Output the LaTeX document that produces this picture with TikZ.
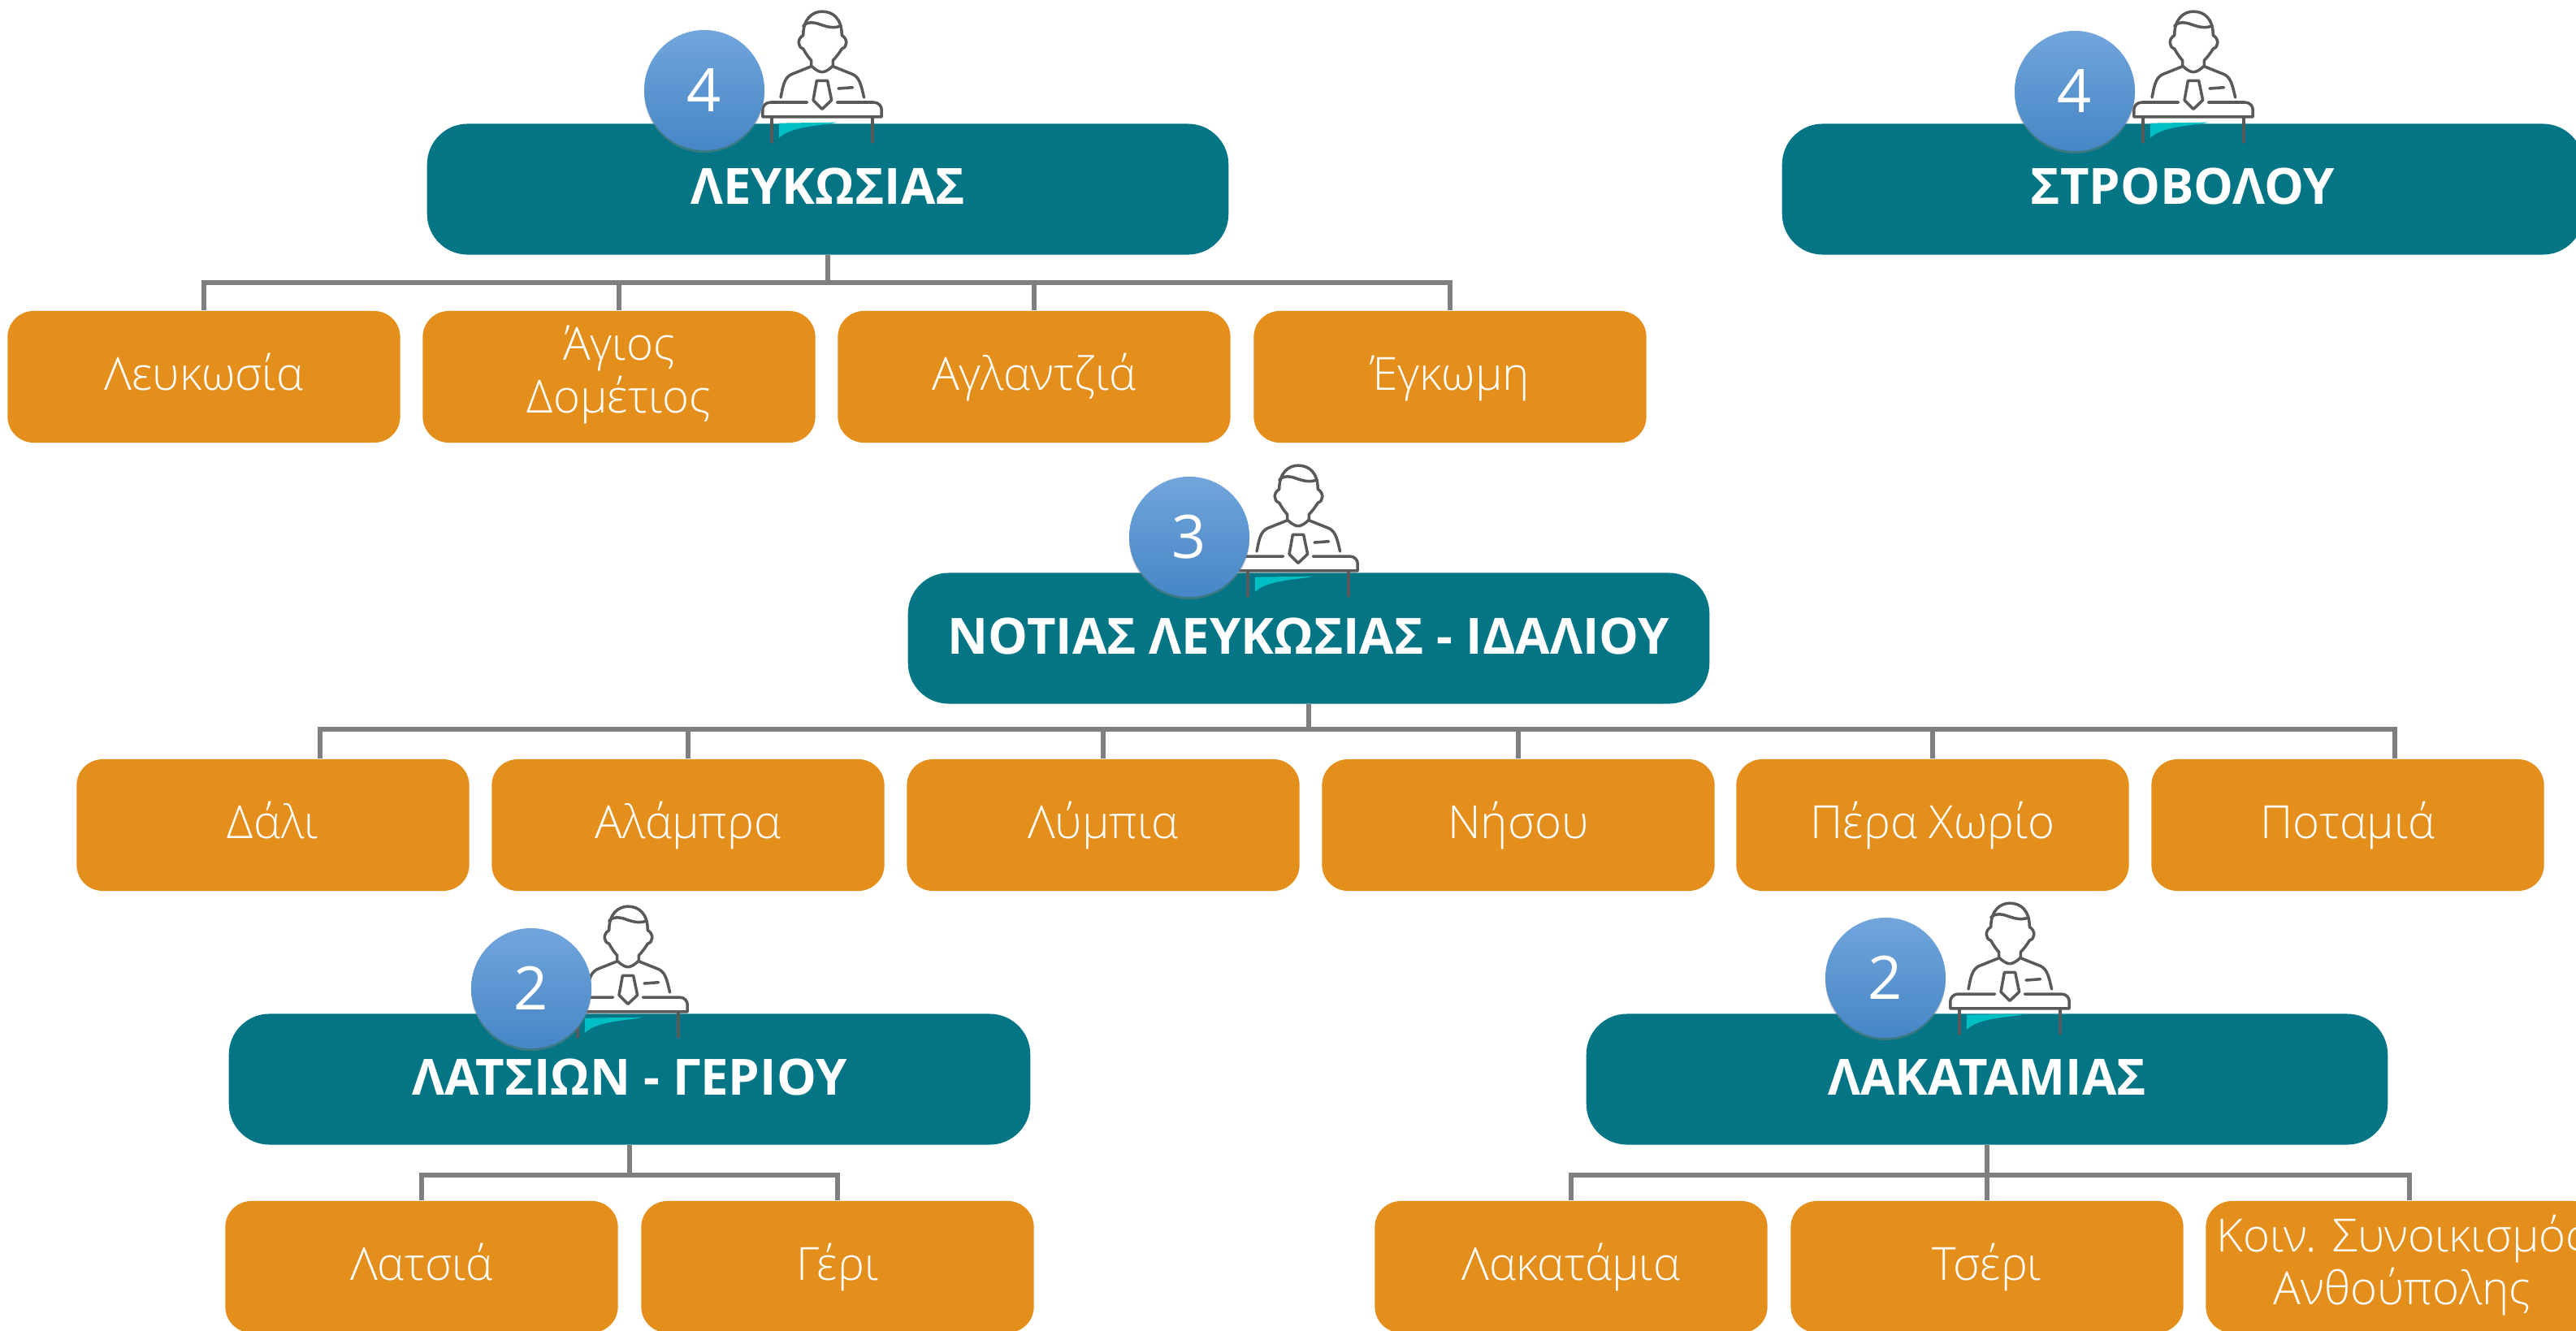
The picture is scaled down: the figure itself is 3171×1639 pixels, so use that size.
\documentclass[tikz,border=0pt]{standalone}
\usepackage{fontspec}
\setmainfont{Open Sans}
\newfontfamily\thinfont{Open Sans Light}
\usepackage{xcolor}
\usetikzlibrary{shadows}

\definecolor{headTeal}{HTML}{037585}
\definecolor{placeOrange}{HTML}{E48F1B}
\definecolor{linkGray}{HTML}{7F7F7F}
\definecolor{iconGray}{HTML}{595959}
\definecolor{swooshTeal}{HTML}{00BFC4}
\definecolor{dotTop}{HTML}{72A5DC}
\definecolor{dotBottom}{HTML}{4686C6}

\newcommand{\placestrut}{\rule[-5pt]{0pt}{19.4pt}}

\tikzset{
    headbox/.style={rectangle, rounded corners=.5cm, fill=headTeal, text=white, font=\fontsize{17.5}{27}\selectfont\bfseries, minimum width=9.86cm, minimum height=1.61cm, align=center, execute at begin node=\strut},
    placebox/.style={rectangle, rounded corners=.32cm, fill=placeOrange, text=white, font=\thinfont\fontsize{16}{18.5}\selectfont, minimum width=4.83cm, minimum height=1.62cm, align=center, inner sep=0pt, execute at begin node=\placestrut, execute at end node=\placestrut},
    countdot/.style={circle, top color=dotTop, bottom color=dotBottom, text=white, font=\fontsize{21}{24}\selectfont, minimum size=1.48cm, inner sep=0pt, drop shadow={shadow xshift=0pt, shadow yshift=-.03cm, opacity=.45}},
    link/.style={draw=linkGray, line width=1.7pt},
    iconline/.style={draw=iconGray, line width=1pt, x=.00333cm, y=-.00333cm, line cap=round, line join=round},
    pics/deskperson/.style={code={
        \fill[swooshTeal, x=.00333cm, y=-.00333cm] (-160,77) -- (55,74) .. controls (0,88) and (-110,85) .. (-160,132) -- cycle;
        \draw[iconline] (-70,-248) .. controls (-70,-310) and (-35,-336) .. (0,-336) .. controls (40,-336) and (73,-310) .. (73,-248) .. controls (95,-235) and (95,-205) .. (73,-198) .. controls (62,-180) and (50,-165) .. (40,-155) -- (40,-135) .. controls (25,-120) and (10,-112) .. (0,-112) .. controls (-10,-112) and (-25,-120) .. (-40,-135) -- (-40,-155) .. controls (-50,-165) and (-60,-180) .. (-70,-198) .. controls (-92,-205) and (-92,-235) .. (-70,-248) -- cycle;
        \draw[iconline] (-70,-283) .. controls (-30,-320) and (10,-260) .. (70,-283);
        \draw[iconline] (-40,-133) -- (-115,-103) .. controls (-140,-90) and (-145,-60) .. (-153,-18);
        \draw[iconline] (40,-133) -- (115,-103) .. controls (140,-90) and (145,-60) .. (155,-18);
        \draw[iconline] (-20,-80) -- (20,-80) -- (35,-8) -- (0,25) -- (-33,-8) -- cycle;
        \draw[iconline] (60,-51) -- (113,-55);
        \draw[iconline] (-55,0) -- (-190,0) .. controls (-210,0) and (-220,15) .. (-220,27) -- (-220,54) -- (220,54) -- (220,27) .. controls (220,15) and (210,0) .. (190,0) -- (55,0);
        \draw[iconline] (-187,54) -- (-187,147);
        \draw[iconline] (187,54) -- (187,147);
    }}
}

\begin{document}
\begin{tikzpicture}[x=.01cm, y=-.01cm]
    \useasboundingbox (0, 0) rectangle (3171, 1639);

    % heads
    \node[headbox] (lefkosias) at (1019, 233) {ΛΕΥΚΩΣΙΑΣ};
    \node[headbox] (strovolou) at (2687, 233) {ΣΤΡΟΒΟΛΟΥ};
    \node[headbox] (notias) at (1611, 786) {ΝΟΤΙΑΣ ΛΕΥΚΩΣΙΑΣ - ΙΔΑΛΙΟΥ};
    \node[headbox] (latsion) at (775, 1329) {ΛΑΤΣΙΩΝ - ΓΕΡΙΟΥ};
    \node[headbox] (lakatamias) at (2446, 1329) {ΛΑΚΑΤΑΜΙΑΣ};

    % places
    \node[placebox] (lefkosia) at (251, 464) {Λευκωσία};
    \node[placebox] (agios) at (762, 464) {Άγιος\\Δομέτιος};
    \node[placebox] (aglantzia) at (1273, 464) {Αγλαντζιά};
    \node[placebox] (egkomi) at (1785, 464) {Έγκωμη};

    \node[placebox] (dali) at (336, 1016) {Δάλι};
    \node[placebox] (alampra) at (847, 1016) {Αλάμπρα};
    \node[placebox] (lympia) at (1358, 1016) {Λύμπια};
    \node[placebox] (nisou) at (1869, 1016) {Νήσου};
    \node[placebox] (perachorio) at (2379, 1016) {Πέρα Χωρίο};
    \node[placebox] (potamia) at (2890, 1016) {Ποταμιά};

    \node[placebox] (latsia) at (519, 1560) {Λατσιά};
    \node[placebox] (geri) at (1031, 1560) {Γέρι};
    \node[placebox] (lakatamia) at (1934, 1560) {Λακατάμια};
    \node[placebox] (tseri) at (2446, 1560) {Τσέρι};
    \node[placebox] (anthoupoli) at (2957, 1560) {Κοιν. Συνοικισμός\\Ανθούπολης};

    % links
    \draw[link] (lefkosias.south) -- ++(0, 34) -| (lefkosia.north);
    \draw[link] (lefkosias.south) -- ++(0, 34) -| (agios.north);
    \draw[link] (lefkosias.south) -- ++(0, 34) -| (aglantzia.north);
    \draw[link] (lefkosias.south) -- ++(0, 34) -| (egkomi.north);

    \draw[link] (notias.south) -- ++(0, 31) -| ([xshift=.58cm]dali.north);
    \draw[link] (notias.south) -- ++(0, 31) -| (alampra.north);
    \draw[link] (notias.south) -- ++(0, 31) -| (lympia.north);
    \draw[link] (notias.south) -- ++(0, 31) -| (nisou.north);
    \draw[link] (notias.south) -- ++(0, 31) -| (perachorio.north);
    \draw[link] (notias.south) -- ++(0, 31) -| ([xshift=.58cm]potamia.north);

    \draw[link] (latsion.south) -- ++(0, 37) -| (latsia.north);
    \draw[link] (latsion.south) -- ++(0, 37) -| (geri.north);

    \draw[link] (lakatamias.south) -- ++(0, 37) -| (lakatamia.north);
    \draw[link] (lakatamias.south) -- ++(0, 37) -| (tseri.north);
    \draw[link] (lakatamias.south) -- ++(0, 37) -| ([xshift=.09cm]anthoupoli.north);

    % people at their desks
    \pic at (1012, 126) {deskperson};
    \pic at (2700, 126) {deskperson};
    \pic at (1598, 685) {deskperson};
    \pic at (773, 1228) {deskperson};
    \pic at (2474, 1224) {deskperson};

    % counts
    \node[countdot] (countlefkosias) at (867, 111) {4};
    \node[countdot] (countstrovolou) at (2554, 112) {4};
    \node[countdot] (countnotias) at (1464, 661) {3};
    \node[countdot] (countlatsion) at (654, 1217) {2};
    \node[countdot] (countlakatamias) at (2321, 1204) {2};
\end{tikzpicture}
\end{document}
